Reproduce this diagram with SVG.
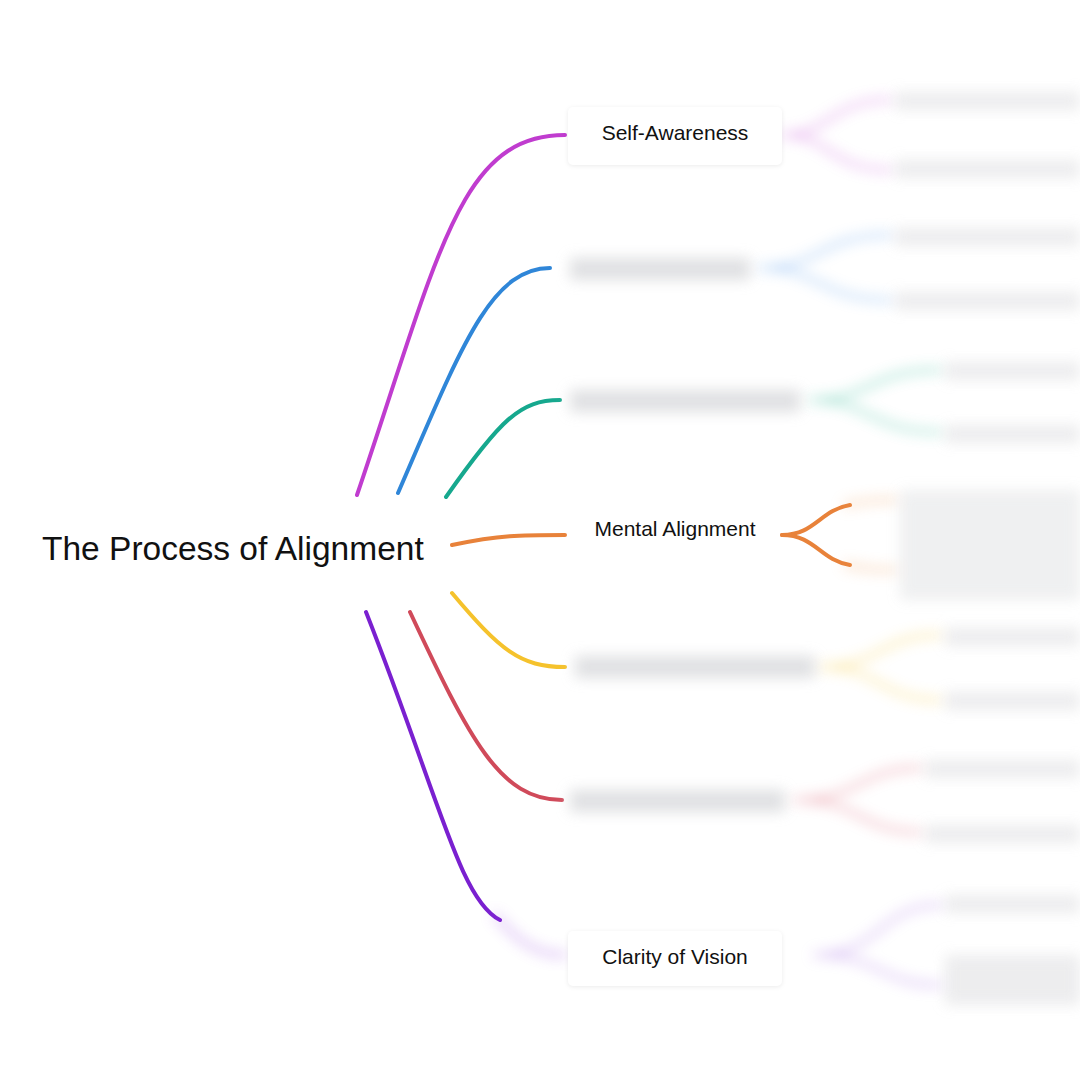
<svg xmlns="http://www.w3.org/2000/svg" width="1080" height="1080" viewBox="0 0 1080 1080">
<defs>
<filter id="blur" x="-20%" y="-50%" width="140%" height="200%"><feGaussianBlur stdDeviation="7"/></filter>
<style>
.c{fill:none;stroke-width:4;stroke-linecap:round}
.t{font-family:"Liberation Sans",Arial,sans-serif;fill:#111}
.bar{fill:#d8d9dc}
.box{fill:#fff;filter:drop-shadow(0 1px 2px rgba(0,0,0,0.08))}
</style>
</defs>
<rect width="1080" height="1080" fill="#fff"/>
<g id="connectors">
<path class="c" stroke="#c03ccf" d="M357,495 C440,250 460,135 565,135"/>
<path class="c" stroke="#2f86d8" d="M398,493 C460,350 490,268 550,268"/>
<path class="c" stroke="#16a88e" d="M446,497 C500,420 520,400 560,400"/>
<path class="c" stroke="#e8823a" d="M452,545 C500,535 520,535 565,535"/>
<path class="c" stroke="#f5c22c" d="M452,593 C500,650 520,667 565,667"/>
<path class="c" stroke="#d04a5a" d="M410,612 C470,740 500,800 562,800"/>
<path class="c" stroke="#7a20d0" d="M366,612 C440,800 460,900 500,920"/>
<path class="c" stroke="#e8823a" d="M782,535 C815,535 820,510 850,505"/>
<path class="c" stroke="#e8823a" d="M782,535 C815,535 820,560 850,565"/>
<g filter="url(#blur)" opacity="0.5">
<path class="c" stroke="#f0a060" stroke-width="6" d="M845,505 C870,500 880,500 895,500 M845,565 C870,570 880,570 895,570"/>
<path class="c" stroke="#9b4fe0" stroke-width="6" d="M495,915 C520,945 540,955 565,955"/>
<path class="c" stroke="#d070e0" stroke-width="8" d="M782,135 C830,135 830,100 890,100 M782,135 C830,135 830,170 890,170"/>
<path class="c" stroke="#6aa8f0" stroke-width="8" d="M760,268 C820,268 820,235 890,235 M760,268 C820,268 820,300 890,300"/>
<path class="c" stroke="#40c0a0" stroke-width="8" d="M810,400 C870,400 870,370 940,370 M810,400 C870,400 870,432 940,432"/>
<path class="c" stroke="#f8d050" stroke-width="8" d="M820,667 C880,667 880,635 940,635 M820,667 C880,667 880,700 940,700"/>
<path class="c" stroke="#e07080" stroke-width="8" d="M795,800 C860,800 860,768 920,768 M795,800 C860,800 860,832 920,832"/>
<path class="c" stroke="#b080e8" stroke-width="8" d="M815,955 C880,955 880,905 940,905 M815,955 C880,955 880,985 940,985"/>
</g>
</g>
<g id="root"><text class="t" x="42" y="560" font-size="33.5">The Process of Alignment</text></g>
<g id="n1"><rect class="box" x="568" y="107" width="214" height="58" rx="5"/><text class="t" x="675" y="140" font-size="21" text-anchor="middle">Self-Awareness</text></g>
<g id="n4"><text class="t" x="675" y="536" font-size="21" text-anchor="middle">Mental Alignment</text></g>
<g id="n7"><rect class="box" x="568" y="931" width="214" height="55" rx="5"/><text class="t" x="675" y="964" font-size="21" text-anchor="middle">Clarity of Vision</text></g>
<g id="blurred" filter="url(#blur)" opacity="0.8">
<rect class="bar" x="570" y="258" width="180" height="22"/>
<rect class="bar" x="570" y="390" width="230" height="22"/>
<rect class="bar" x="575" y="656" width="240" height="22"/>
<rect class="bar" x="570" y="790" width="215" height="22"/>
<rect class="bar" x="895" y="92" width="185" height="18" opacity="0.6"/>
<rect class="bar" x="895" y="160" width="185" height="18" opacity="0.6"/>
<rect class="bar" x="895" y="228" width="185" height="18" opacity="0.6"/>
<rect class="bar" x="895" y="292" width="185" height="18" opacity="0.6"/>
<rect class="bar" x="945" y="362" width="135" height="18" opacity="0.6"/>
<rect class="bar" x="945" y="425" width="135" height="18" opacity="0.6"/>
<rect class="bar" x="900" y="490" width="180" height="110" opacity="0.5"/>
<rect class="bar" x="945" y="628" width="135" height="18" opacity="0.6"/>
<rect class="bar" x="945" y="692" width="135" height="18" opacity="0.6"/>
<rect class="bar" x="925" y="760" width="155" height="18" opacity="0.6"/>
<rect class="bar" x="925" y="825" width="155" height="18" opacity="0.6"/>
<rect class="bar" x="945" y="895" width="135" height="18" opacity="0.6"/>
<rect class="bar" x="945" y="955" width="135" height="50" opacity="0.6"/>
</g>
</svg>
